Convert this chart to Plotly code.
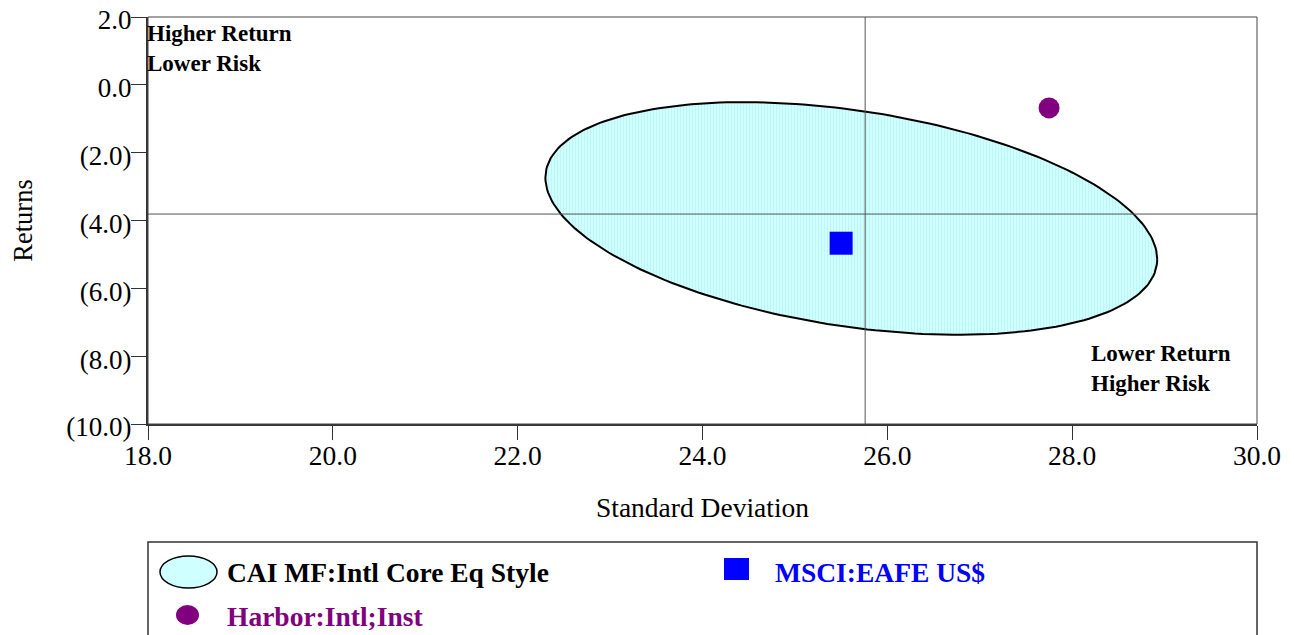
import numpy as np
import plotly.graph_objects as go

# universe ellipse (CAI MF:Intl Core Eq Style)
ell_center = [25.61, -3.94]
ell_half = [3.31, 3.43]       # half extent in std dev / returns
ell_corr = -0.35

# medians of the universe (crosshair)
median_sd = 25.76
median_ret = -3.81

# points
msci_sd = [25.50]
msci_ret = [-4.67]
harbor_sd = [27.75]
harbor_ret = [-0.68]

x_ticks = [18, 20, 22, 24, 26, 28, 30]
x_ticktext = ["18.0", "20.0", "22.0", "24.0", "26.0", "28.0", "30.0"]
y_ticks = [2, 0, -2, -4, -6, -8, -10]
y_ticktext = ["2.0", "0.0", "(2.0)", "(4.0)", "(6.0)", "(8.0)", "(10.0)"]

FONT = "Liberation Serif"
W, H = 1294, 635
OFF = 8  # page body margin
# plot area in page pixels: 148..1257 x 17..424
PL, PR, PT, PB = 148, 1257, 17, 424
L, R, T, B = PL - OFF, W - (PR - OFF), PT - OFF, H - (PB - OFF)


def px(x):
    return (x - PL) / (PR - PL)


def py(y):
    return (PB - y) / (PB - PT)


t = np.linspace(0, 2 * np.pi, 241)
ex = ell_center[0] + ell_half[0] * np.cos(t)
ey = ell_center[1] + ell_half[1] * (ell_corr * np.cos(t) + np.sqrt(1 - ell_corr**2) * np.sin(t))

fig = go.Figure()

fig.add_trace(go.Scatter(
    x=ex, y=ey, mode="lines", fill="toself",
    fillcolor="#d0ffff",
    fillpattern=dict(shape="|", fgcolor="#a8eeee", bgcolor="#d0ffff", size=3, solidity=0.3),
    line=dict(color="black", width=2),
    name="CAI MF:Intl Core Eq Style", showlegend=False, hoverinfo="skip",
))

# crosshair
fig.add_trace(go.Scatter(x=[median_sd, median_sd], y=[-10, 2], mode="lines",
                         line=dict(color="#555555", width=1), showlegend=False, hoverinfo="skip"))
fig.add_trace(go.Scatter(x=[18, 30], y=[median_ret, median_ret], mode="lines",
                         line=dict(color="#555555", width=1), showlegend=False, hoverinfo="skip"))

fig.add_trace(go.Scatter(x=msci_sd, y=msci_ret, mode="markers", name="MSCI:EAFE US$",
                         marker=dict(symbol="square", size=23, color="#0000ff"), showlegend=False))
fig.add_trace(go.Scatter(x=harbor_sd, y=harbor_ret, mode="markers", name="Harbor:Intl;Inst",
                         marker=dict(symbol="circle", size=21, color="#800080"), showlegend=False))

fig.update_layout(
    width=W, height=H,
    margin=dict(l=L, r=R, t=T, b=B),
    plot_bgcolor="white", paper_bgcolor="white",
    font=dict(family=FONT, size=27, color="black"),
    showlegend=False,
)

fig.update_xaxes(
    range=[18, 30], tickvals=x_ticks, ticktext=x_ticktext,
    showgrid=False, zeroline=False, automargin=False, ticklabeloverflow="allow",
    showline=True, linecolor="#333333", linewidth=2,
    ticks="outside", ticklen=14, tickcolor="#333333", tickwidth=1,
    tickfont=dict(size=27.5), ticklabelstandoff=-8,
    title=dict(text="Standard Deviation", font=dict(size=27.5), standoff=28),
)
fig.update_yaxes(
    range=[-10, 2], tickvals=y_ticks, ticktext=y_ticktext,
    showgrid=False, zeroline=False, automargin=False, ticklabeloverflow="allow",
    showline=True, linecolor="#333333", linewidth=2,
    ticks="outside", ticklen=15, tickcolor="#333333", tickwidth=1,
    tickfont=dict(size=27), ticklabelstandoff=-6, ticklabelshift=3,
    title=dict(text="Returns", font=dict(size=26.5), standoff=34),
)

# plot frame top / right
fig.add_shape(type="rect", xref="paper", yref="paper", x0=0, x1=1, y0=0, y1=1,
              line=dict(color="#444444", width=1))

# quadrant notes
fig.add_annotation(x=px(145), y=py(49), xref="paper", yref="paper", xanchor="left", yanchor="middle",
                   text="<b>Higher Return<br>Lower Risk</b>", showarrow=False, align="left",
                   font=dict(size=23, color="black"))
fig.add_annotation(x=px(1089), y=py(368), xref="paper", yref="paper", xanchor="left", yanchor="middle",
                   text="<b>Lower Return<br>Higher Risk</b>", showarrow=False, align="left",
                   font=dict(size=23, color="black"))

# legend box
fig.add_shape(type="rect", xref="paper", yref="paper", x0=0, x1=1, y0=py(660), y1=py(542),
              line=dict(color="#333333", width=1.5), fillcolor="white", layer="below")
fig.add_shape(type="circle", xref="paper", yref="paper", x0=px(160), x1=px(217), y0=py(588), y1=py(556),
              line=dict(color="black", width=1.5), fillcolor="#d0ffff")
fig.add_shape(type="rect", xref="paper", yref="paper", x0=px(724), x1=px(749), y0=py(580), y1=py(558),
              line=dict(width=0), fillcolor="#0000ff")
fig.add_shape(type="circle", xref="paper", yref="paper", x0=px(176), x1=px(199), y0=py(625), y1=py(605),
              line=dict(width=0), fillcolor="#800080")

legend_items = [
    ("CAI MF:Intl Core Eq Style", "black", 225, 572),
    ("MSCI:EAFE US$", "#0000ff", 773, 572),
    ("Harbor:Intl;Inst", "#800080", 225, 616),
]
for txt, col, lx, ly in legend_items:
    fig.add_annotation(x=px(lx), y=py(ly), xref="paper", yref="paper", xanchor="left", yanchor="middle",
                       text="<b>" + txt + "</b>", showarrow=False, font=dict(size=27.5, color=col))

fig.write_html("out.html")
